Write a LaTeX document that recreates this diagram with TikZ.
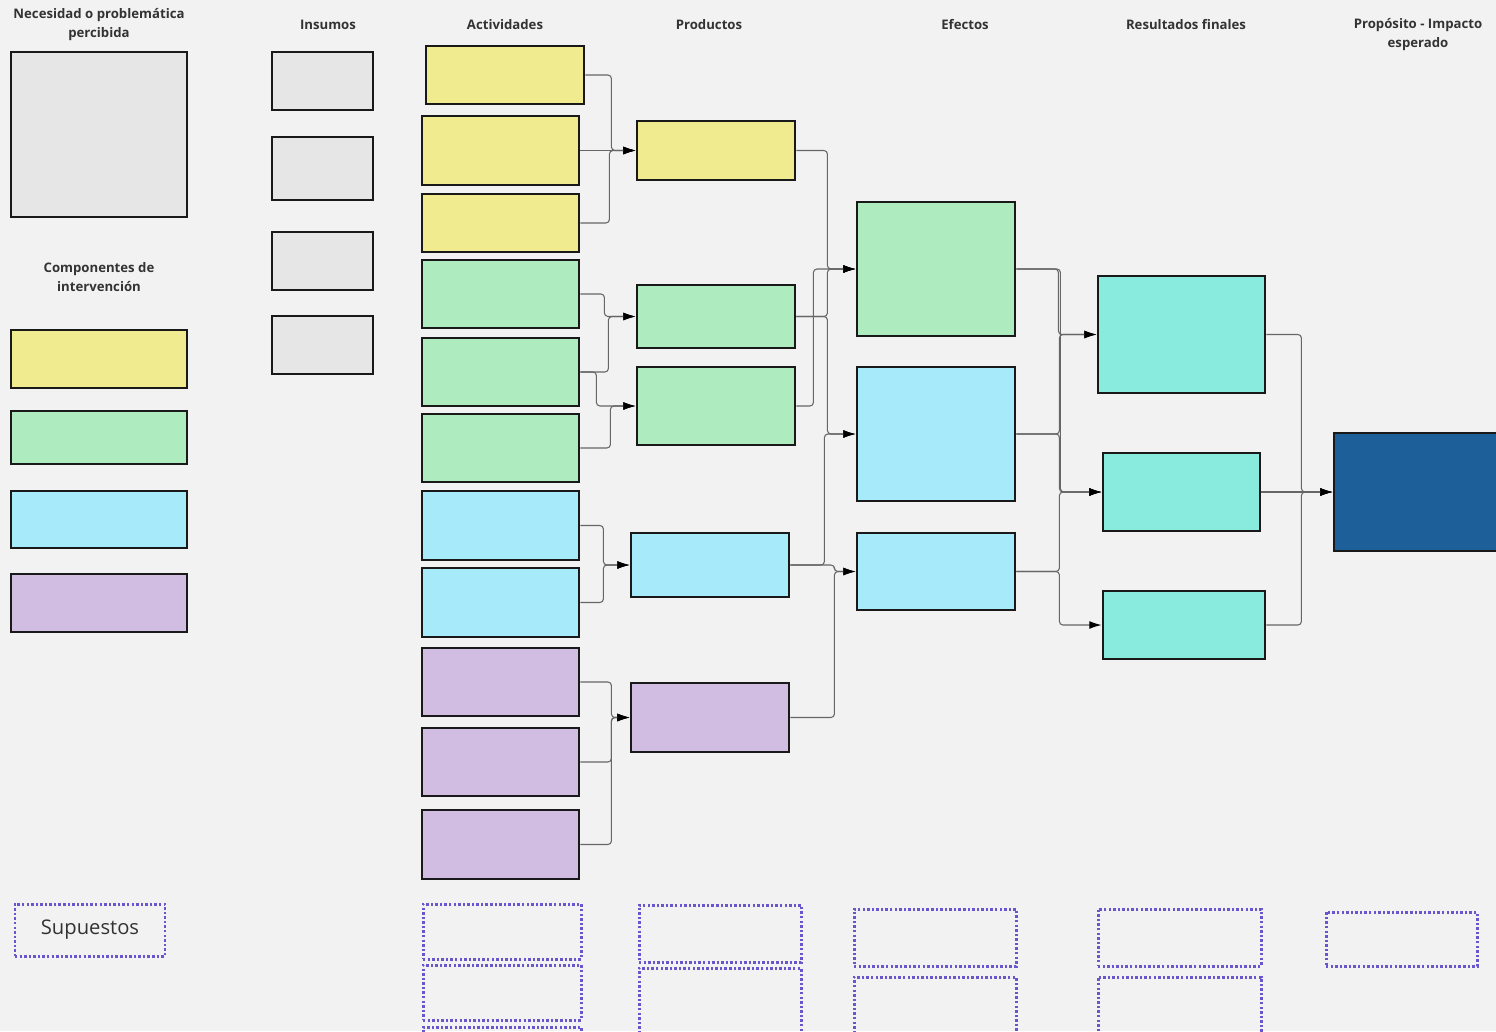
\documentclass[tikz,border=0pt]{standalone}
\usepackage{fontspec}
\setmainfont{Open Sans}
\usepackage{xcolor}
\usepackage{tikz}
\usetikzlibrary{arrows.meta}
\definecolor{fondo}{HTML}{F2F2F2}
\definecolor{gris}{HTML}{E6E6E6}
\definecolor{amarillo}{HTML}{F1EB8F}
\definecolor{verde}{HTML}{AEEBBF}
\definecolor{celeste}{HTML}{A7EBFB}
\definecolor{morado}{HTML}{D1BDE1}
\definecolor{turquesa}{HTML}{88EBDD}
\definecolor{azul}{HTML}{1C5F99}
\definecolor{punteo}{HTML}{6A55CC}
\definecolor{texto}{HTML}{333333}

\begin{document}
\begin{tikzpicture}[x=0.02cm, y=-0.02cm]
\tikzset{Caja/.style 2 args={shape=rectangle, draw=black!90, line width=1.6pt, inner sep=0pt, minimum width=#1*0.02cm, minimum height=#2*0.02cm}}
\tikzset{Punt/.style 2 args={shape=rectangle, draw=punteo, line width=1.7pt, dash pattern=on 1.4pt off 1.2pt, inner sep=0pt, minimum width=#1*0.02cm, minimum height=#2*0.02cm}}
\tikzset{Tit/.style={font=\fontsize{7.5}{10.8}\selectfont\bfseries, text=texto, align=center}}
\tikzset{Con/.style={draw=black!60, line width=0.6pt, rounded corners=2pt, -{Latex[color=black, length=7pt, width=4.5pt]}}}

\path[use as bounding box, fill=fondo] (0,0) rectangle (1496,1031);
\clip (0,0) rectangle (1496,1031);

% titles
\node[Tit] (tnec) at (99,24.5) {Necesidad o problemática\\percibida};
\node[Tit] (tcom) at (99,277.5) {Componentes de\\intervención};
\node[Tit] (tins) at (328,25) {Insumos};
\node[Tit] (tact) at (505,25) {Actividades};
\node[Tit] (tpro) at (709,25) {Productos};
\node[Tit] (tefe) at (965,25) {Efectos};
\node[Tit] (tres) at (1186,25) {Resultados finales};
\node[Tit] (tpp) at (1418,34.5) {Propósito - Impacto\\esperado};

% left column
\node[Caja={176}{165}, fill=gris] (nec) at (99,134.5) {};
\node[Caja={176}{58}, fill=amarillo] (c1) at (99,359) {};
\node[Caja={176}{53}, fill=verde] (c2) at (99,437.5) {};
\node[Caja={176}{57}, fill=celeste] (c3) at (99,519.5) {};
\node[Caja={176}{58}, fill=morado] (c4) at (99,603) {};

% insumos
\node[Caja={101}{58}, fill=gris] (i1) at (322.5,81) {};
\node[Caja={101}{63}, fill=gris] (i2) at (322.5,168.5) {};
\node[Caja={101}{58}, fill=gris] (i3) at (322.5,261) {};
\node[Caja={101}{58}, fill=gris] (i4) at (322.5,345) {};

% actividades
\node[Caja={158}{58}, fill=amarillo] (a1) at (505,75) {};
\node[Caja={157}{69}, fill=amarillo] (a2) at (500.5,150.5) {};
\node[Caja={157}{58}, fill=amarillo] (a3) at (500.5,223) {};
\node[Caja={157}{68}, fill=verde] (a4) at (500.5,294) {};
\node[Caja={157}{68}, fill=verde] (a5) at (500.5,372) {};
\node[Caja={157}{68}, fill=verde] (a6) at (500.5,448) {};
\node[Caja={157}{69}, fill=celeste] (a7) at (500.5,525.5) {};
\node[Caja={157}{69}, fill=celeste] (a8) at (500.5,602.5) {};
\node[Caja={157}{68}, fill=morado] (a9) at (500.5,682) {};
\node[Caja={157}{68}, fill=morado] (a10) at (500.5,762) {};
\node[Caja={157}{69}, fill=morado] (a11) at (500.5,844.5) {};

% productos
\node[Caja={158}{59}, fill=amarillo] (p1) at (716,150.5) {};
\node[Caja={158}{63}, fill=verde] (p2) at (716,316.5) {};
\node[Caja={158}{78}, fill=verde] (p3) at (716,406) {};
\node[Caja={158}{64}, fill=celeste] (p4) at (710,565) {};
\node[Caja={158}{69}, fill=morado] (p5) at (710,717.5) {};

% efectos
\node[Caja={158}{134}, fill=verde] (e1) at (936,269) {};
\node[Caja={158}{134}, fill=celeste] (e2) at (936,434) {};
\node[Caja={158}{77}, fill=celeste] (e3) at (936,571.5) {};

% resultados finales
\node[Caja={167}{117}, fill=turquesa] (r1) at (1181.5,334.5) {};
\node[Caja={157}{78}, fill=turquesa] (r2) at (1181.5,492) {};
\node[Caja={162}{68}, fill=turquesa] (r3) at (1184,625) {};

% proposito
\node[Caja={166}{118}, fill=azul] (imp) at (1417,492) {};

% supuestos
\node[Punt={150}{52}, font=\fontsize{11.5}{13}\selectfont, text=texto] (sup) at (90,930) {Supuestos};
\node[Punt={158}{55}] (sa1) at (502,931.5) {};
\node[Punt={158}{55}] (sa2) at (502,992.5) {};
\node[Punt={158}{56}] (sa3) at (502,1055) {};
\node[Punt={162}{57}] (sp1) at (720,933.5) {};
\node[Punt={162}{70}] (sp2) at (720,1003) {};
\node[Punt={162}{57}] (se1) at (935,937.5) {};
\node[Punt={162}{70}] (se2) at (935,1012) {};
\node[Punt={163}{57}] (sr1) at (1179.5,937.5) {};
\node[Punt={163}{70}] (sr2) at (1179.5,1012) {};
\node[Punt={151}{54}] (spp) at (1401.5,939) {};

% arrows: actividades -> productos
\draw[Con] (a1.east) -- ++(26,0) |- (p1.west);
\draw[Con] (a2.east) -- (p1.west);
\draw[Con] (a3.east) -- ++(29,0) |- (p1.west);
\draw[Con] (a4.east) -- ++(24,0) |- (p2.west);
\draw[Con] (a5.east) -- ++(28,0) |- (p2.west);
\draw[Con] (a5.east) -- ++(16,0) |- (p3.west);
\draw[Con] (a6.east) -- ++(30,0) |- (p3.west);
\draw[Con] (a7.east) -- ++(23,0) |- (p4.west);
\draw[Con] (a8.east) -- ++(23,0) |- (p4.west);
\draw[Con] (a9.east) -- ++(31,0) |- (p5.west);
\draw[Con] (a10.east) -- ++(31,0) |- (p5.west);
\draw[Con] (a11.east) -- ++(31,0) |- (p5.west);

% arrows: productos -> efectos
\draw[Con] (p1.east) -- ++(31,0) |- (e1.west);
\draw[Con] (p2.east) -- ++(31,0) |- (e1.west);
\draw[Con] (p2.east) -- ++(31,0) |- (e2.west);
\draw[Con] (p3.east) -- ++(17,0) |- (e1.west);
\draw[Con] (p4.east) -- ++(34,0) |- (e2.west);
\draw[Con] (p4.east) -- ++(44,0) |- (e3.west);
\draw[Con] (p5.east) -- ++(44,0) |- (e3.west);

% arrows: efectos -> resultados
\draw[Con] (e1.east) -- ++(42,0) |- (r1.west);
\draw[Con] (e1.east) -- ++(44,0) |- (r2.west);
\draw[Con] (e2.east) -- ++(43,0) |- (r1.west);
\draw[Con] (e2.east) -- ++(43,0) |- (r2.west);
\draw[Con] (e3.east) -- ++(43,0) |- (r2.west);
\draw[Con] (e3.east) -- ++(43,0) |- (r3.west);

% arrows: resultados -> proposito
\draw[Con] (r1.east) -- ++(35,0) |- (imp.west);
\draw[Con] (r2.east) -- (imp.west);
\draw[Con] (r3.east) -- ++(35,0) |- (imp.west);
\end{tikzpicture}
\end{document}
